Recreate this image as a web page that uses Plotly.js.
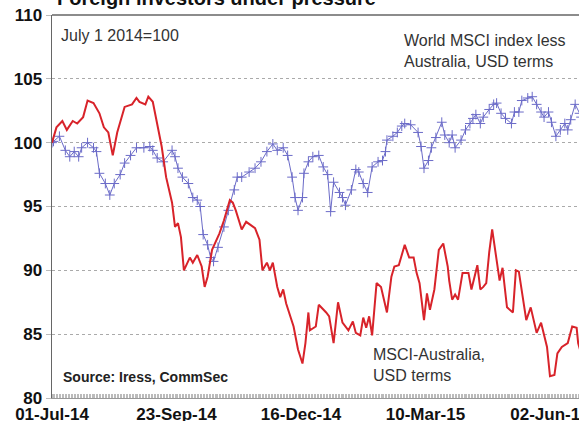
<!DOCTYPE html>
<html>
<head>
<meta charset="utf-8">
<script src="https://cdn.plot.ly/plotly-3.0.1.min.js"></script>
<style>html,body{margin:0;padding:0;background:#fff;overflow:hidden;}#chart{width:579px;height:421px;}</style>
</head>
<body>
<div id="chart"></div>
<script>
const ausDates = ["2014-07-01","2014-07-04","2014-07-08","2014-07-11","2014-07-15","2014-07-18","2014-07-22","2014-07-25","2014-07-29","2014-08-02","2014-08-05","2014-08-08","2014-08-11","2014-08-14","2014-08-19","2014-08-24","2014-08-27","2014-08-29","2014-09-02","2014-09-04","2014-09-07","2014-09-10","2014-09-13","2014-09-16","2014-09-20","2014-09-22","2014-09-24","2014-09-26","2014-09-28","2014-10-02","2014-10-04","2014-10-07","2014-10-10","2014-10-12","2014-10-14","2014-10-17","2014-10-22","2014-10-25","2014-10-29","2014-10-31","2014-11-02","2014-11-06","2014-11-09","2014-11-15","2014-11-18","2014-11-20","2014-11-23","2014-11-25","2014-11-27","2014-11-30","2014-12-02","2014-12-04","2014-12-06","2014-12-11","2014-12-14","2014-12-17","2014-12-19","2014-12-21","2014-12-22","2014-12-26","2014-12-28","2015-01-02","2015-01-04","2015-01-07","2015-01-10","2015-01-13","2015-01-17","2015-01-20","2015-01-22","2015-01-25","2015-01-27","2015-01-29","2015-01-31","2015-02-02","2015-02-05","2015-02-08","2015-02-10","2015-02-12","2015-02-15","2015-02-17","2015-02-20","2015-02-24","2015-02-27","2015-03-02","2015-03-04","2015-03-06","2015-03-09","2015-03-11","2015-03-13","2015-03-16","2015-03-19","2015-03-22","2015-03-25","2015-03-26","2015-03-28","2015-03-30","2015-04-01","2015-04-04","2015-04-08","2015-04-10","2015-04-14","2015-04-16","2015-04-18","2015-04-20","2015-04-22","2015-04-24","2015-04-27","2015-04-29","2015-05-01","2015-05-04","2015-05-08","2015-05-10","2015-05-12","2015-05-16","2015-05-17","2015-05-20","2015-05-22","2015-05-24","2015-05-27","2015-05-29","2015-05-31","2015-06-02","2015-06-05","2015-06-07","2015-06-10","2015-06-14","2015-06-17","2015-06-20","2015-06-21","2015-06-23"];
const ausValues = [100.0,101.2,101.7,101.0,101.7,101.5,102.0,103.3,103.1,102.3,101.2,100.8,99.0,100.8,102.8,103.0,103.5,103.2,103.0,103.6,103.2,101.5,99.7,97.3,95.3,93.4,93.7,92.6,90.0,91.0,90.6,91.2,90.3,88.7,89.5,91.6,92.9,93.9,95.5,95.3,94.7,93.2,93.8,93.3,92.4,90.0,90.6,90.0,90.6,88.7,87.9,88.5,87.4,85.6,83.8,82.7,84.3,86.7,85.3,85.6,87.3,86.7,86.4,84.3,87.5,85.9,85.3,86.0,85.1,84.9,86.3,85.5,86.4,84.9,89.0,88.7,87.7,86.7,89.5,90.3,90.4,92.0,91.0,91.0,89.8,89.0,86.1,88.2,86.9,88.5,91.6,92.1,90.3,89.2,87.7,88.1,87.7,89.8,89.8,88.5,90.4,88.5,88.7,89.0,91.4,93.2,90.8,89.2,90.2,87.1,86.7,90.0,89.9,86.7,86.1,87.1,86.1,85.1,85.9,84.9,84.0,81.7,81.8,83.5,84.0,84.3,85.6,85.5,84.3,83.5];

const worldDates = ["2014-07-01","2014-07-02","2014-07-06","2014-07-10","2014-07-13","2014-07-16","2014-07-19","2014-07-21","2014-07-25","2014-07-29","2014-07-31","2014-08-02","2014-08-06","2014-08-09","2014-08-12","2014-08-16","2014-08-19","2014-08-23","2014-08-27","2014-09-01","2014-09-05","2014-09-07","2014-09-10","2014-09-14","2014-09-20","2014-09-22","2014-09-24","2014-09-27","2014-10-01","2014-10-04","2014-10-07","2014-10-09","2014-10-11","2014-10-14","2014-10-16","2014-10-18","2014-10-21","2014-10-25","2014-10-28","2014-11-01","2014-11-03","2014-11-06","2014-11-11","2014-11-15","2014-11-19","2014-11-23","2014-11-27","2014-11-30","2014-12-04","2014-12-07","2014-12-10","2014-12-12","2014-12-14","2014-12-17","2014-12-18","2014-12-21","2014-12-24","2014-12-28","2014-12-31","2015-01-03","2015-01-05","2015-01-07","2015-01-11","2015-01-13","2015-01-15","2015-01-19","2015-01-22","2015-01-24","2015-01-27","2015-01-30","2015-02-02","2015-02-06","2015-02-09","2015-02-11","2015-02-12","2015-02-16","2015-02-19","2015-02-22","2015-02-24","2015-02-28","2015-03-05","2015-03-07","2015-03-09","2015-03-12","2015-03-14","2015-03-17","2015-03-21","2015-03-23","2015-03-26","2015-03-28","2015-03-30","2015-04-03","2015-04-06","2015-04-09","2015-04-11","2015-04-13","2015-04-16","2015-04-18","2015-04-22","2015-04-25","2015-04-27","2015-04-30","2015-05-03","2015-05-07","2015-05-09","2015-05-12","2015-05-14","2015-05-18","2015-05-21","2015-05-24","2015-05-27","2015-05-29","2015-06-01","2015-06-03","2015-06-06","2015-06-09","2015-06-12","2015-06-14","2015-06-16","2015-06-19","2015-06-22","2015-06-23"];
const worldValues = [100.0,100.1,100.5,99.4,98.9,99.3,98.9,99.6,100.0,99.6,99.3,97.6,96.8,95.9,96.8,97.5,98.4,99.0,99.6,99.6,99.7,99.4,98.8,98.5,99.4,98.9,98.0,97.3,96.8,95.7,95.5,95.0,92.8,92.0,91.0,90.7,91.8,93.4,94.7,96.3,97.3,97.3,97.7,98.0,98.5,99.3,99.9,99.4,99.6,99.0,97.3,95.7,94.7,95.7,97.6,98.5,98.9,99.0,98.1,97.5,94.6,96.9,96.1,95.7,95.1,96.3,97.9,97.7,96.8,96.1,98.1,98.5,98.6,99.3,100.2,100.5,100.8,101.3,101.5,101.4,100.8,99.7,98.0,98.6,99.6,100.4,101.6,100.6,100.0,100.6,99.6,100.2,101.0,101.5,101.9,102.2,101.5,102.0,102.6,103.0,103.1,102.3,101.9,101.5,102.4,102.4,103.3,103.5,103.6,103.0,102.4,102.0,102.4,101.6,100.5,101.0,101.5,101.0,101.8,103.0,102.3,102.0];

const tickDates = ["2014-07-01","2014-09-23","2014-12-16","2015-03-10","2015-06-02"];
const tickLabels = ["01-Jul-14","23-Sep-14","16-Dec-14","10-Mar-15","02-Jun-15"];
const yTicks = [80,85,90,95,100,105,110];

const FONT = "Liberation Sans, Arial, sans-serif";

const traces = [
  {x: worldDates, y: worldValues, type:'scatter', mode:'lines+markers', name:'World MSCI index less Australia, USD terms',
   line:{color:'#6b6bc8', width:1},
   marker:{symbol:'cross-thin-open', size:7, line:{color:'#5555c0', width:1}}},
  {x: ausDates, y: ausValues, type:'scatter', mode:'lines', name:'MSCI-Australia, USD terms',
   line:{color:'#d8232a', width:2}}
];

function px2x(p){ return (p-52)/527; }
function px2y(p){ return (398-p)/383; }

const layout = {
  width:579, height:421,
  margin:{l:52, r:0, t:15, b:23, pad:0},
  paper_bgcolor:'#fff', plot_bgcolor:'#fff',
  showlegend:false,
  font:{family:FONT, color:'#222'},
  xaxis:{
    type:'date', range:['2014-07-01','2015-06-21 14:00'],
    tickmode:'array', tickvals:tickDates, ticktext:tickLabels,
    tickfont:{family:FONT, size:17, weight:'bold', color:'#111'},
    ticklabeloverflow:'allow',
    showgrid:false, zeroline:false,
    showline:true, linecolor:'#999', linewidth:1,
    ticks:'', ticklabelstandoff:1,
    minor:{ticks:'inside', dtick:86400000, ticklen:4, tickcolor:'#bbb', tickwidth:1, showgrid:false}
  },
  yaxis:{
    range:[80,110], tickmode:'array', tickvals:yTicks,
    tickfont:{family:FONT, size:17, weight:'bold', color:'#111'},
    showgrid:true, gridcolor:'#aaa', griddash:'dot', gridwidth:1,
    zeroline:false, showline:true, linecolor:'#666', linewidth:1.5,
    ticks:'outside', ticklen:5, tickcolor:'#bbb'
  },
  shapes:[
    {type:'line', xref:'paper', yref:'paper', x0:0, x1:1, y0:1, y1:1, line:{color:'#666', width:1.5}}
  ],
  annotations:[
    {text:'Foreign investors under pressure', xref:'paper', yref:'paper', x:px2x(55), y:1, xanchor:'left', yanchor:'bottom', yshift:4, showarrow:false,
     font:{family:FONT, size:20, weight:'bold', color:'#111'}},
    {text:'July 1 2014=100', xref:'paper', yref:'paper', x:px2x(59), y:px2y(35), xanchor:'left', yanchor:'middle', showarrow:false,
     font:{family:FONT, size:16, color:'#333'}},
    {text:'World MSCI index less<br>Australia, USD terms', xref:'paper', yref:'paper', x:px2x(402), y:px2y(51), xanchor:'left', yanchor:'middle', align:'left', showarrow:false,
     font:{family:FONT, size:16, color:'#333'}},
    {text:'MSCI-Australia,<br>USD terms', xref:'paper', yref:'paper', x:px2x(371), y:px2y(365), xanchor:'left', yanchor:'middle', align:'left', showarrow:false,
     font:{family:FONT, size:16, color:'#333'}},
    {text:'Source: Iress, CommSec', xref:'paper', yref:'paper', x:px2x(61), y:px2y(377), xanchor:'left', yanchor:'middle', showarrow:false,
     font:{family:FONT, size:14, weight:'bold', color:'#222'}}
  ]
};

Plotly.newPlot('chart', traces, layout, {displayModeBar:false, staticPlot:true});
</script>
</body>
</html>
